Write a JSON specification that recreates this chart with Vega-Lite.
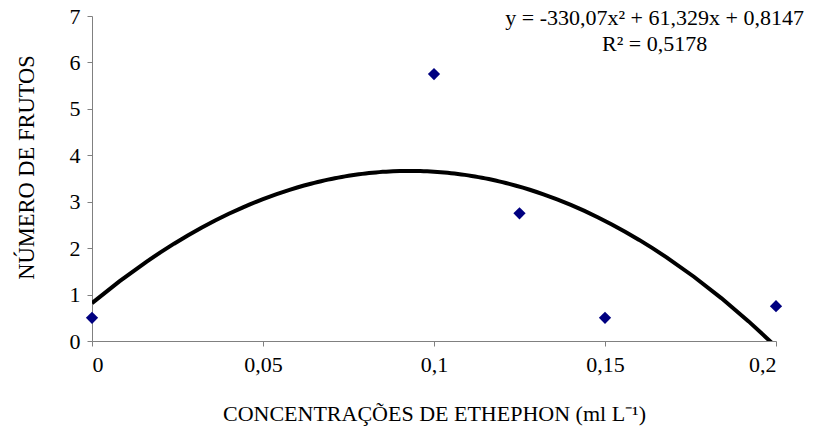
{
  "$schema": "https://vega.github.io/schema/vega-lite/v6.json",
  "width": 684,
  "height": 325,
  "autosize": {"type": "none"},
  "padding": {"left": 92, "top": 16, "right": 42, "bottom": 89},
  "background": "white",
  "config": {
    "view": {"stroke": null},
    "font": "Liberation Serif",
    "axis": {
      "grid": false,
      "domainColor": "#808080",
      "tickColor": "#808080",
      "tickSize": 5,
      "labelFont": "Liberation Serif",
      "labelFontSize": 22,
      "labelColor": "black",
      "titleFont": "Liberation Serif",
      "titleFontSize": 22,
      "titleFontWeight": "normal",
      "titleColor": "black"
    }
  },
  "datasets": {
    "pts": [
      {"x": 0, "y": 0.5},
      {"x": 0.1, "y": 5.75},
      {"x": 0.125, "y": 2.75},
      {"x": 0.15, "y": 0.5},
      {"x": 0.2, "y": 0.75}
    ],
    "eq": [
      {"x": 0.1645, "y": 6.806, "label": "y = -330,07x² + 61,329x + 0,8147"},
      {"x": 0.1645, "y": 6.246, "label": "R² = 0,5178"}
    ]
  },
  "layer": [
    {
      "data": {"name": "pts"},
      "transform": [
        {"regression": "y", "on": "x", "method": "poly", "order": 2, "extent": [0, 0.2]}
      ],
      "mark": {"type": "line", "color": "black", "strokeWidth": 4, "clip": true},
      "encoding": {
        "x": {
          "field": "x", "type": "quantitative",
          "scale": {"domain": [0, 0.2], "nice": false},
          "axis": {
            "values": [0, 0.05, 0.1, 0.15, 0.2],
            "labelExpr": "replace(format(datum.value, '~g'), '.', ',')",
            "labelPadding": 8,
            "titleY": 79,
            "titleBaseline": "alphabetic"
          },
          "title": "CONCENTRAÇÕES DE ETHEPHON (ml L⁻¹)"
        },
        "y": {
          "field": "y", "type": "quantitative",
          "scale": {"domain": [0, 7], "nice": false},
          "axis": {
            "values": [0, 1, 2, 3, 4, 5, 6, 7],
            "labelPadding": 7,
            "titleX": -66,
            "titleY": 151,
            "titleAlign": "center",
            "titleBaseline": "middle",
            "titleFontSize": 22.5
          },
          "title": "NÚMERO DE FRUTOS"
        }
      }
    },
    {
      "data": {"name": "pts"},
      "mark": {"type": "point", "shape": "diamond", "filled": true, "color": "#000080", "size": 150, "opacity": 1},
      "encoding": {
        "x": {"field": "x", "type": "quantitative"},
        "y": {"field": "y", "type": "quantitative"}
      }
    },
    {
      "data": {"name": "eq"},
      "mark": {"type": "text", "font": "Liberation Serif", "fontSize": 22, "color": "black", "align": "center", "baseline": "alphabetic"},
      "encoding": {
        "x": {"field": "x", "type": "quantitative"},
        "y": {"field": "y", "type": "quantitative"},
        "text": {"field": "label"}
      }
    }
  ]
}
